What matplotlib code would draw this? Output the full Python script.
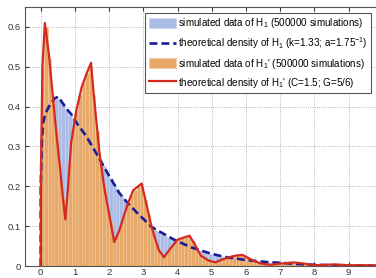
import numpy as np
import matplotlib
matplotlib.use("Agg")
import matplotlib.pyplot as plt

plt.rcParams['font.family'] = ['Liberation Sans', 'DejaVu Sans']
plt.rcParams['mathtext.fontset'] = 'custom'
plt.rcParams['mathtext.rm'] = 'Liberation Sans'
plt.rcParams['mathtext.it'] = 'Liberation Sans:italic'

# histogram bins (width 0.1), left edges 0.0 .. 9.7
bin_width = 0.1
n_bins = 98

# simulated H1 (blue histogram), read per bin
h1_hist = [0.33, 0.38, 0.40, 0.415, 0.42, 0.42, 0.41, 0.395, 0.38, 0.37,
           0.357, 0.345, 0.333, 0.322, 0.308, 0.295, 0.28, 0.265, 0.25, 0.235,
           0.22, 0.205, 0.19, 0.178, 0.167, 0.157, 0.147, 0.137, 0.128, 0.12,
           0.112, 0.104, 0.097, 0.091, 0.086, 0.081, 0.076, 0.071, 0.066, 0.062,
           0.058, 0.054, 0.05, 0.047, 0.044, 0.041, 0.038, 0.036, 0.033, 0.031,
           0.029, 0.027, 0.025, 0.023, 0.022, 0.02, 0.019, 0.017, 0.016, 0.015,
           0.014, 0.013, 0.012, 0.011, 0.0105, 0.01, 0.009, 0.0085, 0.008, 0.0075,
           0.007, 0.0065, 0.006, 0.0055, 0.005, 0.0047, 0.0044, 0.004, 0.0037, 0.0034,
           0.003, 0.003, 0.0028, 0.0027, 0.0025, 0.0024, 0.0022, 0.002, 0.002, 0.0018,
           0.0017, 0.0016, 0.0015, 0.0014, 0.0013, 0.0012, 0.0011, 0.001]

# simulated H1' (orange histogram), read per bin
h1p_hist = [0.50, 0.60, 0.52, 0.43, 0.34, 0.26, 0.17, 0.14, 0.26, 0.35,
            0.39, 0.43, 0.46, 0.485, 0.50, 0.43, 0.34, 0.26, 0.20, 0.15,
            0.11, 0.065, 0.08, 0.105, 0.13, 0.155, 0.178, 0.19, 0.20, 0.20,
            0.165, 0.13, 0.095, 0.065, 0.042, 0.027, 0.027, 0.04, 0.05, 0.062,
            0.067, 0.071, 0.073, 0.074, 0.062, 0.046, 0.03, 0.022, 0.016, 0.013,
            0.01, 0.01, 0.014, 0.017, 0.02, 0.023, 0.025, 0.027, 0.028, 0.025,
            0.021, 0.016, 0.012, 0.008, 0.006, 0.004, 0.003, 0.003, 0.004, 0.005,
            0.006, 0.007, 0.008, 0.009, 0.009, 0.007, 0.006, 0.005, 0.003, 0.002,
            0.002, 0.002, 0.003, 0.003, 0.004, 0.004, 0.004, 0.003, 0.003, 0.002,
            0.002, 0.002, 0.002, 0.002, 0.002, 0.002, 0.002, 0.002]

# theoretical density of H1 (blue dashed)
h1_x = [0.0, 0.0, 0.03, 0.07, 0.15, 0.27, 0.4, 0.51, 0.63, 0.75, 0.9, 1.04, 1.33,
        1.71, 2.0, 2.29, 2.49, 2.8, 3.24, 3.44, 3.9, 4.39, 4.9, 5.36, 6.0, 6.6,
        7.0, 7.5, 8.0, 8.5, 9.0, 9.8]
h1_y = [0, 0.2, 0.31, 0.36, 0.385, 0.405, 0.42, 0.425, 0.41, 0.395, 0.38, 0.36, 0.326,
        0.27, 0.226, 0.184, 0.163, 0.135, 0.098, 0.088, 0.066, 0.047, 0.033, 0.023, 0.015, 0.01,
        0.008, 0.005, 0.003, 0.002, 0.0015, 0.001]

# theoretical density of H1' (red)
h1p_x = [0.0, 0.01, 0.05, 0.12, 0.24, 0.36, 0.46, 0.56, 0.65, 0.72, 0.80, 0.89, 1.04,
         1.2, 1.35, 1.47, 1.55, 1.71, 1.85, 2.0, 2.15, 2.3, 2.52, 2.7, 2.85, 2.95,
         3.09, 3.24, 3.45, 3.6, 3.8, 4.0, 4.2, 4.35, 4.5, 4.68, 4.9, 5.11, 5.3, 5.5,
         5.7, 5.89, 6.05, 6.22, 6.45, 6.7, 7.0, 7.4, 7.7, 8.0, 8.3, 8.6, 9.0, 9.4, 9.8]
h1p_y = [0, 0.27, 0.5, 0.61, 0.53, 0.42, 0.33, 0.25, 0.17, 0.117, 0.2, 0.31, 0.39,
         0.45, 0.485, 0.51, 0.43, 0.29, 0.2, 0.13, 0.06, 0.09, 0.15, 0.19, 0.2, 0.207,
         0.155, 0.098, 0.04, 0.022, 0.045, 0.066, 0.072, 0.076, 0.055, 0.026, 0.014, 0.009, 0.016, 0.022,
         0.026, 0.028, 0.021, 0.013, 0.006, 0.003, 0.006, 0.009, 0.006, 0.002, 0.003, 0.004, 0.002, 0.002, 0.0015]

labels = [r"simulated data of H$_1$ (500000 simulations)",
          r"theoretical density of H$_1$ (k=1.33; a=1.75$^{-1}$)",
          r"simulated data of H$_1$' (500000 simulations)",
          r"theoretical density of H$_1$' (C=1.5; G=5/6)"]

centers = np.arange(n_bins) * bin_width + bin_width / 2

fig = plt.figure(figsize=(3.76, 2.78), dpi=100)
ax = fig.add_axes([25 / 376, 12 / 278, 351 / 376, 259 / 278])

b1 = ax.bar(centers, h1_hist, width=bin_width, color='#aabbe6', edgecolor='#c8d4f0', linewidth=0.4)
l1, = ax.plot(h1_x, h1_y, color='#1c1c96', lw=1.9, ls=(0, (3, 1.5)))
b2 = ax.bar(centers, h1p_hist, width=bin_width, color='#e8a868', edgecolor='#f4c89a', linewidth=0.4)
l2, = ax.plot(h1p_x, h1p_y, color='#d42a1e', lw=1.6)
l1.set_zorder(3)
l2.set_zorder(4)

ax.set_xlim(-0.46, 9.8)
ax.set_ylim(0, 0.65)
ax.set_xticks(range(10))
ax.set_yticks([0, 0.1, 0.2, 0.3, 0.4, 0.5, 0.6])
ax.set_yticklabels(['0', '0.1', '0.2', '0.3', '0.4', '0.5', '0.6'])
ax.grid(True, ls=':', color='#a0a0a0', lw=0.6)
ax.set_axisbelow(True)
ax.tick_params(direction='in', length=3, labelsize=6.8, colors='#333333', top=True)
ax.tick_params(axis='x', pad=1.5)
ax.tick_params(axis='y', pad=3)
for s in ['left', 'bottom', 'top']:
    ax.spines[s].set_color('#555555')
    ax.spines[s].set_linewidth(0.8)
ax.spines['right'].set_visible(False)

leg = ax.legend([b1, l1, b2, l2], labels, loc='upper right',
                bbox_to_anchor=(371 / 376, 1 - 13 / 278), bbox_transform=fig.transFigure,
                borderaxespad=0, fontsize=7.1, handlelength=2.7, handleheight=1.2,
                labelspacing=0.52, borderpad=0.35, handletextpad=0.25, fancybox=False,
                framealpha=1)
leg.get_frame().set_edgecolor('#555555')
leg.get_frame().set_linewidth(0.8)

fig.savefig('out.png', dpi=100)
